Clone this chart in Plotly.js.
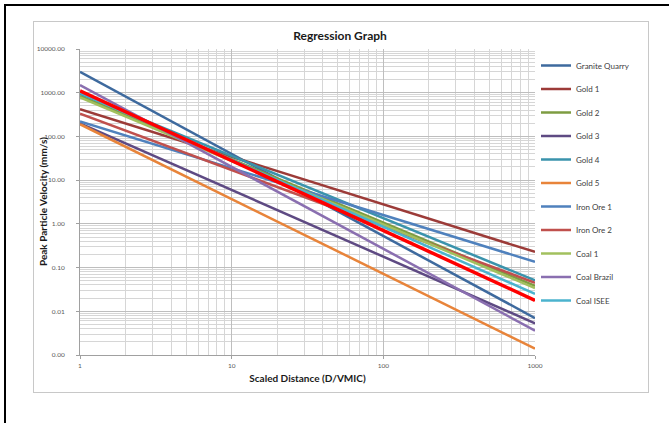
<!DOCTYPE html>
<html>
<head>
<meta charset="utf-8">
<script src="https://cdn.plot.ly/plotly-3.0.1.min.js"></script>
<style>
  html, body { margin: 0; padding: 0; background: #ffffff; }
  #wrap { position: relative; width: 669px; height: 423px; overflow: hidden; }
  #chart { position: absolute; left: 0; top: 0; width: 669px; height: 423px; }
  #frame { position: absolute; left: 4px; top: 4px; width: 700px; height: 440px;
           border-top: 2px solid #000; border-left: 2px solid #000; pointer-events: none; }
  #box { position: absolute; left: 33px; top: 21px; width: 614px; height: 370px;
         border: 1px solid #C8C8C8; pointer-events: none; }
</style>
</head>
<body>
<div id="wrap">
  <div id="chart"></div>
  <div id="frame"></div>
  <div id="box"></div>
</div>
<script>
// Scaled distance end points of each regression line
const scaledDistance = [1, 1000];

const seriesNames = ["Granite Quarry", "Gold 1", "Gold 2", "Gold 3", "Gold 4", "Gold 5",
                     "Iron Ore 1", "Iron Ore 2", "Coal 1", "Coal Brazil", "Coal ISEE"];
// PPV (mm/s) at scaled distance 1 and at 1000
const ppvAtSD1    = [3000, 420, 850, 200, 950, 190, 220, 330, 780, 1500, 1000];
const ppvAtSD1000 = [0.0070, 0.228, 0.038, 0.0053, 0.051, 0.0014, 0.135, 0.045, 0.034, 0.0036, 0.025];
const seriesColors = ["#3E6A9E", "#9C3B38", "#7E9C42", "#5E4A83", "#3A93AC", "#E8843A",
                      "#4F81BD", "#C0504D", "#A2C05E", "#8A6FB0", "#4BB3CE"];

// Extra line without legend entry (bright red)
const extraName = "Combined";
const extraAtSD1 = 1100;
const extraAtSD1000 = 0.0178;

const yTickVals = [0.001, 0.01, 0.1, 1, 10, 100, 1000, 10000];
const yTickText = ["0.00", "0.01", "0.10", "1.00", "10.00", "100.00", "1000.00", "10000.00"];
const xTickVals = [1, 10, 100, 1000];
const xTickText = ["1", "10", "100", "1000"];

const FONT = "Lato, 'Liberation Sans', sans-serif";

const traces = seriesNames.map((n, i) => ({
  type: "scatter", mode: "lines", name: n,
  x: scaledDistance, y: [ppvAtSD1[i], ppvAtSD1000[i]],
  line: { color: seriesColors[i], width: 2.5 },
  legendgroup: "g" + i,
  hoverinfo: "name"
}));
traces.push({
  type: "scatter", mode: "lines", name: extraName,
  x: scaledDistance, y: [extraAtSD1, extraAtSD1000],
  line: { color: "#FF0000", width: 3.5 },
  legendgroup: "extra",
  showlegend: false
});

const layout = {
  width: 669, height: 423,
  paper_bgcolor: "#ffffff", plot_bgcolor: "#ffffff",
  margin: { l: 80, r: 134, t: 49, b: 68, pad: 0 },
  font: { family: FONT, color: "#404040" },
  showlegend: true,
  title: {
    text: "<b>Regression Graph</b>",
    font: { family: FONT, size: 12, color: "#1a1a1a" },
    xref: "container", yref: "container",
    x: 340 / 669, xanchor: "center",
    y: 1 - 36 / 423, yanchor: "middle"
  },
  xaxis: {
    type: "log", range: [0, 3],
    tickmode: "array", tickvals: xTickVals, ticktext: xTickText,
    tickfont: { size: 6.5, color: "#595959" },
    ticks: "outside", ticklen: 3, tickcolor: "#A0A0A0",
    ticklabelstandoff: 1,
    showline: true, linecolor: "#A0A0A0", linewidth: 1,
    showgrid: true, gridcolor: "#BEBEBE", gridwidth: 1,
    minor: { dtick: "D1", showgrid: true, gridcolor: "#D6D6D6", gridwidth: 1, ticks: "" },
    zeroline: false,
    title: { text: "<b>Scaled Distance (D/VMIC)</b>", font: { family: FONT, size: 10, color: "#1a1a1a" }, standoff: 7 }
  },
  yaxis: {
    type: "log", range: [-3, 4],
    tickmode: "array", tickvals: yTickVals, ticktext: yTickText,
    tickfont: { size: 6.5, color: "#595959" },
    ticks: "outside", ticklen: 3, tickcolor: "#A0A0A0",
    ticklabelstandoff: 10,
    showline: true, linecolor: "#A0A0A0", linewidth: 1,
    showgrid: true, gridcolor: "#BEBEBE", gridwidth: 1,
    minor: { dtick: "D1", showgrid: true, gridcolor: "#D6D6D6", gridwidth: 1, ticks: "" },
    zeroline: false
  },
  annotations: [{
    text: "<b>Peak Particle Velocity (mm/s)</b>",
    xref: "paper", yref: "paper", x: 0, y: 0.5,
    xshift: -37, xanchor: "center", yanchor: "middle",
    textangle: -90, showarrow: false,
    font: { family: FONT, size: 10, color: "#1a1a1a" }
  }],
  legend: {
    xref: "container", yref: "paper",
    x: 536 / 669, xanchor: "left",
    y: (355 - 51) / 306, yanchor: "top",
    maxheight: 1,
    font: { family: FONT, size: 8, color: "#404040" },
    bgcolor: "rgba(0,0,0,0)", borderwidth: 0,
    tracegroupgap: 4.5, traceorder: "grouped"
  }
};

Plotly.newPlot("chart", traces, layout, { displayModeBar: false, staticPlot: true });
</script>
</body>
</html>
